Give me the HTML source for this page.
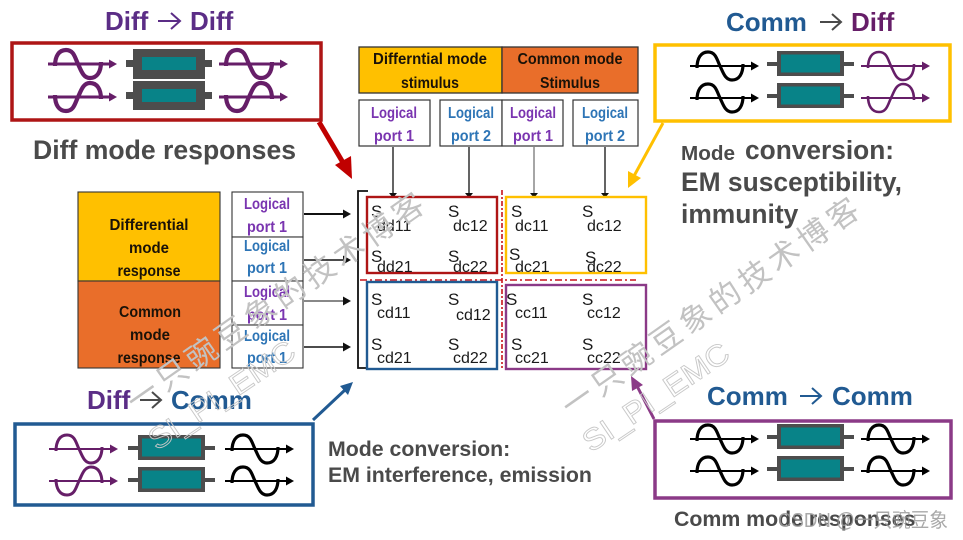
<!DOCTYPE html>
<html lang="en">
<head>
<meta charset="utf-8">
<title>Mixed-mode S-parameters</title>
<style>
html,body{margin:0;padding:0;background:#fff;}
svg{display:block;filter:blur(.35px);}
text{font-family:"Liberation Sans","Noto Sans CJK SC",sans-serif;}
.t{font-weight:700;font-size:26px;}
.g{font-weight:700;fill:#4a4a4a;}
.c{font-weight:700;font-size:15.5px;fill:#1a1208;text-anchor:middle;}
.l{font-weight:700;font-size:15.3px;text-anchor:middle;}
.p{fill:#7a35b0;}
.b{fill:#2e75b6;}
.s{font-size:17px;fill:#1a1a1a;}
.u{font-size:16px;fill:#1a1a1a;}
.wm{font-size:31px;fill:#c2c2c2;letter-spacing:5px;}
.wl{font-size:30px;fill:none;stroke:#c8c8c8;stroke-width:.9;}
</style>
</head>
<body>
<svg xmlns="http://www.w3.org/2000/svg" width="963" height="540" viewBox="0 0 963 540">
<defs>
<g id="w">
<path d="M7,2C7,-8 11,-14 18,-14C26,-14 27,-6 30,0C33,6 35,14 42,14C49,14 53,8 53,-2" fill="none" stroke="currentColor"/>
<line x1="0" y1="0" x2="62" y2="0" stroke="currentColor" style="stroke-width:var(--a,2)"/>
<polygon points="61,-4.5 69,0 61,4.5" fill="currentColor"/>
</g>
<g id="f">
<path d="M7,-2C7,8 11,14 18,14C26,14 27,6 30,0C33,-6 35,-14 42,-14C49,-14 53,-8 53,2" fill="none" stroke="currentColor"/>
<line x1="0" y1="0" x2="62" y2="0" stroke="currentColor" style="stroke-width:var(--a,2)"/>
<polygon points="61,-4.5 69,0 61,4.5" fill="currentColor"/>
</g>
<g id="r">
<rect x="0" y="-2" width="10" height="4" fill="#4d4d4d"/>
<rect x="77" y="-2" width="10" height="4" fill="#4d4d4d"/>
<rect x="10" y="-13" width="67" height="25" fill="#4d4d4d"/>
<rect x="14" y="-9.5" width="59" height="18" fill="#088388"/>
</g>
</defs>

<!-- Top left -->
<text x="105" y="30" class="t" fill="#5b2d86">Diff</text>
<path d="M158,21H179M171,13L180,21L171,29" fill="none" stroke="#5b2d86" stroke-width="2"/>
<text x="190" y="30" class="t" fill="#5b2d86">Diff</text>
<rect x="12" y="43" width="309" height="77" fill="#fff" stroke="#ae1515" stroke-width="3.5"/>
<g color="#661e68" stroke-width="4.2" style="--a:3">
<use href="#w" x="48" y="64"/><use href="#f" x="48" y="97"/>
<use href="#w" x="219" y="64"/><use href="#f" x="219" y="97"/>
</g>
<rect x="126" y="60" width="86" height="7" fill="#4d4d4d"/>
<rect x="126" y="92" width="86" height="7" fill="#4d4d4d"/>
<rect x="133" y="49" width="72" height="30" fill="#4d4d4d"/>
<rect x="133" y="81" width="72" height="29" fill="#4d4d4d"/>
<rect x="142" y="57" width="54" height="13" fill="#088388"/>
<rect x="142" y="89" width="54" height="13" fill="#088388"/>
<text x="33" y="159" class="g" font-size="26.6">Diff mode responses</text>

<!-- Top right -->
<text x="726" y="31" class="t" fill="#215a92">Comm</text>
<path d="M820,22H840M832,14L841,22L832,30" fill="none" stroke="#4a4a4a" stroke-width="2"/>
<text x="851" y="31" class="t" fill="#661e68">Diff</text>
<rect x="655" y="45" width="295" height="76" fill="#fff" stroke="#ffc000" stroke-width="3.5"/>
<g color="#000" stroke-width="3.2">
<use href="#w" x="690" y="66"/><use href="#w" x="690" y="98"/>
</g>
<g color="#661e68" stroke-width="2.6">
<use href="#w" x="861" y="66"/><use href="#f" x="861" y="98"/>
</g>
<use href="#r" x="767" y="64"/><use href="#r" x="767" y="96"/>
<text x="681" y="160" class="g" font-size="20.7">Mode</text>
<text x="745" y="159" class="g" font-size="26.3">conversion:</text>
<text x="681" y="191" class="g" font-size="26.4">EM susceptibility,</text>
<text x="681" y="223" class="g" font-size="26.4">immunity</text>

<!-- Connector arrows -->
<line x1="319" y1="122" x2="345" y2="166" stroke="#c00000" stroke-width="5"/>
<polygon points="352,179 335,165 351,156" fill="#c00000"/>
<line x1="663" y1="123" x2="634" y2="176" stroke="#ffc000" stroke-width="3"/>
<polygon points="628,188 628,171 641,178" fill="#ffc000"/>
<line x1="313" y1="420" x2="346" y2="389" stroke="#215a92" stroke-width="3"/>
<polygon points="353,382 348,395 340,386" fill="#215a92"/>
<line x1="654" y1="419" x2="637" y2="386" stroke="#8b3a87" stroke-width="3"/>
<polygon points="631,376 643,385 632,391" fill="#8b3a87"/>

<!-- Stimulus header -->
<rect x="359" y="47" width="143" height="46" fill="#ffc000" stroke="#333" stroke-width="1.3"/>
<rect x="502" y="47" width="136" height="46" fill="#e96e2a" stroke="#333" stroke-width="1.3"/>
<text x="430" y="64" class="c" textLength="114" lengthAdjust="spacingAndGlyphs">Differntial mode</text>
<text x="430" y="88" class="c" textLength="58" lengthAdjust="spacingAndGlyphs">stimulus</text>
<text x="570" y="64" class="c" textLength="105" lengthAdjust="spacingAndGlyphs">Common mode</text>
<text x="570" y="88" class="c" textLength="60" lengthAdjust="spacingAndGlyphs">Stimulus</text>

<g fill="#fff" stroke="#333" stroke-width="1.2">
<rect x="359" y="100" width="71" height="46"/>
<rect x="440" y="100" width="62" height="46"/>
<rect x="502" y="100" width="61" height="46"/>
<rect x="573" y="100" width="65" height="46"/>
</g>
<g lengthAdjust="spacingAndGlyphs">
<text x="394" y="118" class="l p" textLength="46" lengthAdjust="spacingAndGlyphs">Logical</text><text x="394" y="141" class="l p" textLength="40" lengthAdjust="spacingAndGlyphs">port 1</text>
<text x="471" y="118" class="l b" textLength="46" lengthAdjust="spacingAndGlyphs">Logical</text><text x="471" y="141" class="l b" textLength="40" lengthAdjust="spacingAndGlyphs">port 2</text>
<text x="533" y="118" class="l p" textLength="46" lengthAdjust="spacingAndGlyphs">Logical</text><text x="533" y="141" class="l p" textLength="40" lengthAdjust="spacingAndGlyphs">port 1</text>
<text x="605" y="118" class="l b" textLength="46" lengthAdjust="spacingAndGlyphs">Logical</text><text x="605" y="141" class="l b" textLength="40" lengthAdjust="spacingAndGlyphs">port 2</text>
</g>

<g stroke="#111" stroke-width="1.3">
<line x1="393" y1="147" x2="393" y2="198"/>
<line x1="469" y1="147" x2="469" y2="198"/>
<line x1="534" y1="147" x2="534" y2="198" stroke="#777"/>
<line x1="605" y1="147" x2="605" y2="198"/>
</g>
<g fill="#111">
<polygon points="389,193 397,193 393,198"/>
<polygon points="465,193 473,193 469,198"/>
<polygon points="530,193 538,193 534,198"/>
<polygon points="601,193 609,193 605,198"/>
</g>

<!-- Left table -->
<rect x="78" y="192" width="142" height="89" fill="#ffc000" stroke="#333" stroke-width="1.1"/>
<rect x="78" y="281" width="142" height="87" fill="#e96e2a" stroke="#333" stroke-width="1.1"/>
<text x="149" y="230" class="c" textLength="79" lengthAdjust="spacingAndGlyphs">Differential</text>
<text x="149" y="253" class="c" textLength="40" lengthAdjust="spacingAndGlyphs">mode</text>
<text x="149" y="276" class="c" textLength="63" lengthAdjust="spacingAndGlyphs">response</text>
<text x="150" y="317" class="c" textLength="62" lengthAdjust="spacingAndGlyphs">Common</text>
<text x="150" y="340" class="c" textLength="40" lengthAdjust="spacingAndGlyphs">mode</text>
<text x="149" y="363" class="c" textLength="63" lengthAdjust="spacingAndGlyphs">response</text>
<g fill="#fff" stroke="#333" stroke-width="1.1">
<rect x="232" y="192" width="71" height="45"/>
<rect x="232" y="237" width="71" height="44"/>
<rect x="232" y="281" width="71" height="44"/>
<rect x="232" y="325" width="71" height="43"/>
</g>
<text x="267" y="209" class="l p" textLength="46" lengthAdjust="spacingAndGlyphs">Logical</text><text x="267" y="232" class="l p" textLength="40" lengthAdjust="spacingAndGlyphs">port 1</text>
<text x="267" y="251" class="l b" textLength="46" lengthAdjust="spacingAndGlyphs">Logical</text><text x="267" y="273" class="l b" textLength="40" lengthAdjust="spacingAndGlyphs">port 1</text>
<text x="267" y="297" class="l p" textLength="46" lengthAdjust="spacingAndGlyphs">Logical</text><text x="267" y="320" class="l p" textLength="40" lengthAdjust="spacingAndGlyphs">port 1</text>
<text x="267" y="341" class="l b" textLength="46" lengthAdjust="spacingAndGlyphs">Logical</text><text x="267" y="363" class="l b" textLength="40" lengthAdjust="spacingAndGlyphs">port 1</text>
<g stroke="#111">
<line x1="304" y1="214" x2="345" y2="214" stroke-width="2"/>
<line x1="304" y1="260" x2="345" y2="260" stroke-width="1.4"/>
<line x1="304" y1="301" x2="345" y2="301" stroke-width="1"/>
<line x1="304" y1="347" x2="345" y2="347" stroke-width="1.6"/>
</g>
<g fill="#111">
<polygon points="343,209.5 351,214 343,218.5"/>
<polygon points="343,255.5 351,260 343,264.5"/>
<polygon points="343,296.5 351,301 343,305.5"/>
<polygon points="343,342.5 351,347 343,351.5"/>
</g>

<!-- Matrix -->
<path d="M368,191H358V368H368" fill="none" stroke="#111" stroke-width="1.8"/>
<g stroke="#c8141c" stroke-width="1.6" fill="none">
<line x1="502" y1="190" x2="502" y2="368" stroke-dasharray="5 2 2 2"/>
<line x1="360" y1="280" x2="636" y2="280" stroke-dasharray="7 3 2 3"/>
</g>
<g fill="none" stroke-width="2.4">
<rect x="367" y="197" width="130" height="76" stroke="#ae1515"/>
<rect x="506" y="197" width="140" height="76" stroke="#ffc000"/>
<rect x="367" y="282" width="130" height="87" stroke="#215a92"/>
<rect x="506" y="285" width="140" height="84" stroke="#8b3a87"/>
</g>
<text x="371" y="217" class="s">S</text><text x="377" y="231" class="u">dd11</text>
<text x="448" y="217" class="s">S</text><text x="453" y="231" class="u">dc12</text>
<text x="371" y="262" class="s">S</text><text x="377" y="272" class="u">dd21</text>
<text x="448" y="262" class="s">S</text><text x="453" y="272" class="u">dc22</text>
<text x="511" y="217" class="s">S</text><text x="515" y="231" class="u">dc11</text>
<text x="582" y="217" class="s">S</text><text x="587" y="231" class="u">dc12</text>
<text x="509" y="260" class="s">S</text><text x="515" y="272" class="u">dc21</text>
<text x="585" y="263" class="s">S</text><text x="587" y="272" class="u">dc22</text>
<text x="371" y="305" class="s">S</text><text x="377" y="318" class="u">cd11</text>
<text x="448" y="305" class="s">S</text><text x="456" y="320" class="u">cd12</text>
<text x="371" y="350" class="s">S</text><text x="377" y="363" class="u">cd21</text>
<text x="448" y="350" class="s">S</text><text x="453" y="363" class="u">cd22</text>
<text x="506" y="305" class="s">S</text><text x="515" y="318" class="u">cc11</text>
<text x="582" y="305" class="s">S</text><text x="587" y="318" class="u">cc12</text>
<text x="511" y="350" class="s">S</text><text x="515" y="363" class="u">cc21</text>
<text x="582" y="350" class="s">S</text><text x="587" y="363" class="u">cc22</text>

<!-- Bottom left -->
<text x="87" y="409" class="t" fill="#5b2d86">Diff</text>
<path d="M140,400H161M152,392L161,400L152,408" fill="none" stroke="#4a4a4a" stroke-width="2"/>
<text x="171" y="409" class="t" fill="#215a92">Comm</text>
<rect x="15" y="424" width="298" height="81" fill="#fff" stroke="#215a92" stroke-width="3.5"/>
<g color="#661e68" stroke-width="3">
<use href="#w" x="49" y="449"/><use href="#f" x="49" y="481"/>
</g>
<g color="#000" stroke-width="3.2">
<use href="#w" x="225" y="449"/><use href="#w" x="225" y="481"/>
</g>
<use href="#r" x="128" y="448"/><use href="#r" x="128" y="480"/>
<text x="328" y="456" class="g" font-size="21.3">Mode conversion:</text>
<text x="328" y="482" class="g" font-size="21.3">EM interference, emission</text>

<!-- Bottom right -->
<text x="707" y="405" class="t" fill="#215a92">Comm</text>
<path d="M800,396H820M812,388L821,396L812,404" fill="none" stroke="#215a92" stroke-width="2"/>
<text x="832" y="405" class="t" fill="#215a92">Comm</text>
<rect x="655" y="421" width="296" height="77" fill="#fff" stroke="#8b3a87" stroke-width="3.5"/>
<g color="#000" stroke-width="3.2">
<use href="#w" x="690" y="439"/><use href="#w" x="690" y="471"/>
<use href="#w" x="861" y="439"/><use href="#w" x="861" y="471"/>
</g>
<use href="#r" x="767" y="437"/><use href="#r" x="767" y="469"/>
<text x="674" y="526" class="g" font-size="21.3">Comm mode responses</text>

<!-- Watermarks -->
<text class="wm" transform="translate(136,413) rotate(-35)">一只豌豆象的技术博客</text>
<text class="wm" transform="translate(571,418) rotate(-35)">一只豌豆象的技术博客</text>
<text class="wl" transform="translate(157,451) rotate(-34)" textLength="170" lengthAdjust="spacingAndGlyphs">SI_PI_EMC</text>
<text class="wl" transform="translate(591,453) rotate(-34)" textLength="170" lengthAdjust="spacingAndGlyphs">SI_PI_EMC</text>
<text x="778" y="527" font-size="20" fill="#9a9a9a" opacity=".85" textLength="170" lengthAdjust="spacingAndGlyphs">CSDN @一只豌豆象</text>
</svg>
</body>
</html>
